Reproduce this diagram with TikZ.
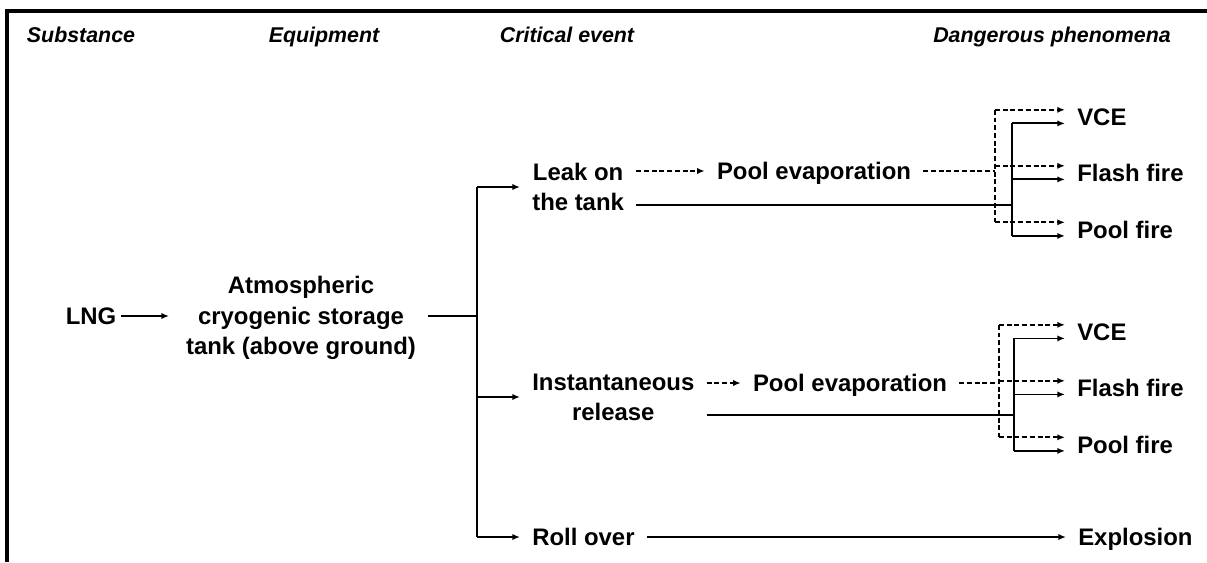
\documentclass[tikz,border=0pt]{standalone}
\usepackage{fontspec}
\setmainfont{Liberation Sans}
\usetikzlibrary{positioning}
\usetikzlibrary{arrows.meta,calc}

\begin{document}
\begin{tikzpicture}[x=0.025cm,y=-0.025cm,
    >={Latex[length=5.5pt,width=4.5pt]},
    basic/.style={font=\bfseries\fontsize{17}{21.5}\selectfont,inner xsep=0.3cm,inner ysep=1pt,align=center},
    word/.style={basic,text height=12.2pt,text depth=0pt},
    heading/.style={font=\bfseries\itshape\fontsize{15.2}{18}\selectfont,inner sep=0pt,anchor=base},
    link/.style={line width=1.3pt},
    dashlink/.style={line width=1.2pt,dash pattern=on 3.5pt off 2pt},
]
    \useasboundingbox (0,0) rectangle (1207,562);
    \draw[line width=2.2pt] (7,562) -- (7,11) -- (1207,11);
% column titles
    \node[heading] (hsub) at (81,42) {Substance};
    \node[heading] (hequ) at (324,42) {Equipment};
    \node[heading] (hcrit) at (567,42) {Critical event};
    \node[heading] (hdang) at (1052,42) {Dangerous phenomena};
% substance and tank
    \node[word,inner xsep=0.12cm] (lng) at (91,316) {LNG};
    \node[basic] (tank) at (301,318) {Atmospheric\\cryogenic storage\\tank (above ground)};
        \path[draw,link,->,shorten >=0.12cm] (lng) -- (lng -| tank.west);
    \coordinate (bus) at (477,316);
        \path[draw,link] (tank.east |- bus) -- (bus);
% critical events
    \node[basic,anchor=west] (leak) at (520,187) {Leak on\\the tank};
    \node[basic,anchor=west] (inst) at (520,397) {Instantaneous\\release};
    \node[word,anchor=west] (roll) at (520,537) {Roll over};
        \path[draw,link] (bus |- leak.west) -- (bus |- roll.west);
        \path[draw,link,->] (bus |- leak.west) -- (leak.west);
        \path[draw,link,->] (bus |- inst.west) -- (inst.west);
        \path[draw,link,->] (bus |- roll.west) -- (roll.west);
    \node[word] (evap1) at (814,171) {Pool evaporation};
    \node[word] (evap2) at (850,383) {Pool evaporation};
        \path[draw,dashlink,->] (leak.east |- evap1) -- (evap1);
        \path[draw,dashlink,->] (inst.east |- evap2) -- (evap2);
    \coordinate (leaklow) at ([yshift=-0.45cm]leak.east);
    \coordinate (instlow) at ([yshift=-0.45cm]inst.east);
% dangerous phenomena
    \foreach \g/\y/\dx/\sx in {1/117/995/1012, 2/332/999/1014} {
        \node[word,anchor=west] (vce\g) at (1065,\y) {VCE};
        \node[word,anchor=west] (flash\g) at (1065,\y+56) {Flash fire};
        \node[word,anchor=west] (pool\g) at (1065,\y+112.5) {Pool fire};
        \coordinate (d\g) at (\dx,\y);
        \coordinate (s\g) at (\sx,\y);
        \foreach \n in {vce,flash,pool} {
            \coordinate (\n\g d) at ([yshift=0.18cm]\n\g.west);
            \coordinate (\n\g s) at ([yshift=-0.16cm]\n\g.west);
            \path[draw,dashlink,->] (d\g |- \n\g d) -- (\n\g d);
            \path[draw,link,->] (s\g |- \n\g s) -- (\n\g s);
        }
        \path[draw,dashlink] (d\g |- vce\g d) -- (d\g |- pool\g d);
        \path[draw,link] (s\g |- vce\g s) -- (s\g |- pool\g s);
    }
        \path[draw,dashlink] (evap1) -- (evap1 -| d1);
        \path[draw,link] (leaklow) -- (leaklow -| s1);
        \path[draw,dashlink] (evap2) -- (evap2 -| d2);
        \path[draw,link] (instlow) -- (instlow -| s2);
    \node[word,anchor=west] (expl) at (1066,537) {Explosion};
        \path[draw,link,->] (roll) -- (expl);
\end{tikzpicture}
\end{document}
